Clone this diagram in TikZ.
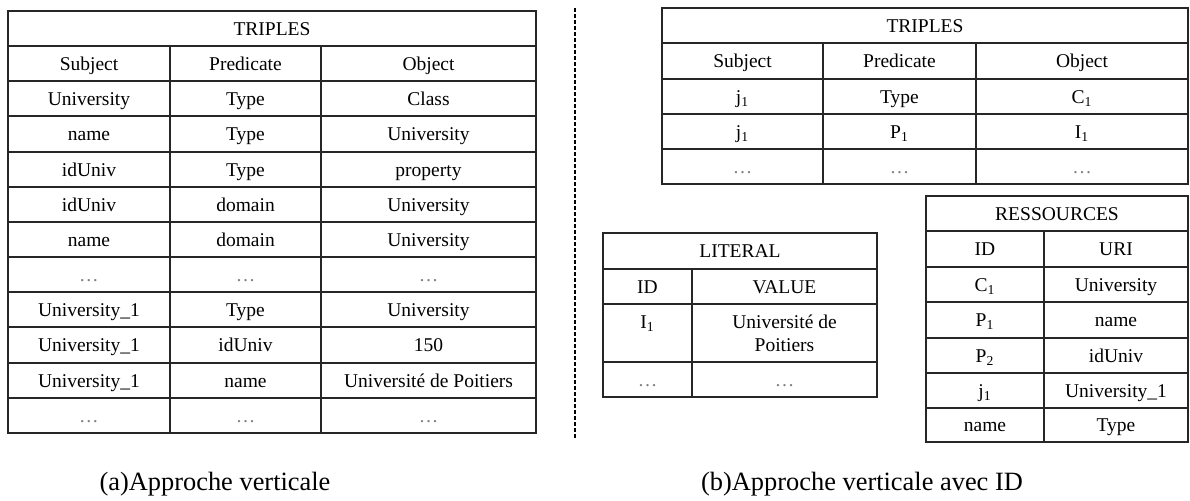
\documentclass[tikz,border=0pt]{standalone}
\usepackage{fontspec}
\setmainfont{Liberation Serif}
\newcommand{\etc}{{\color{black!50}\ldots}}
\newcommand{\sub}[2]{#1\textsubscript{#2}}

\begin{document}
\begin{tikzpicture}[x=0.5pt, y=-0.5pt,
    cell/.style={font=\fontsize{9.75}{11.5}\selectfont, inner sep=0pt, text height=8.5pt, text depth=2pt},
    rule/.style={line width=0.8pt, black!85},
    caption/.style={font=\fontsize{13.2}{15}\selectfont, anchor=base, inner sep=0pt}]
  \useasboundingbox (0,0) rectangle (1190,500);

  % (a) one table of triples
  \draw[rule] (8,11) rectangle (536,433);
  \draw[rule] (8,46) -- (536,46);
  \draw[rule] (8,81) -- (536,81);
  \draw[rule] (8,116) -- (536,116);
  \draw[rule] (8,152) -- (536,152);
  \draw[rule] (8,187) -- (536,187);
  \draw[rule] (8,222) -- (536,222);
  \draw[rule] (8,257) -- (536,257);
  \draw[rule] (8,292) -- (536,292);
  \draw[rule] (8,327) -- (536,327);
  \draw[rule] (8,363) -- (536,363);
  \draw[rule] (8,398) -- (536,398);
  \draw[rule] (170,46) -- (170,433);
  \draw[rule] (321,46) -- (321,433);

  \node[cell] (ta) at (272,28.5) {TRIPLES};
  \node[cell] (a0s) at (89,63.5) {Subject};
  \node[cell] (a0p) at (245.5,63.5) {Predicate};
  \node[cell] (a0o) at (428.5,63.5) {Object};
  \node[cell] (a1s) at (89,98.5) {University};
  \node[cell] (a1p) at (245.5,98.5) {Type};
  \node[cell] (a1o) at (428.5,98.5) {Class};
  \node[cell] (a2s) at (89,134) {name};
  \node[cell] (a2p) at (245.5,134) {Type};
  \node[cell] (a2o) at (428.5,134) {University};
  \node[cell] (a3s) at (89,169.5) {idUniv};
  \node[cell] (a3p) at (245.5,169.5) {Type};
  \node[cell] (a3o) at (428.5,169.5) {property};
  \node[cell] (a4s) at (89,204.5) {idUniv};
  \node[cell] (a4p) at (245.5,204.5) {domain};
  \node[cell] (a4o) at (428.5,204.5) {University};
  \node[cell] (a5s) at (89,239.5) {name};
  \node[cell] (a5p) at (245.5,239.5) {domain};
  \node[cell] (a5o) at (428.5,239.5) {University};
  \node[cell] (a6s) at (89,274.5) {\etc};
  \node[cell] (a6p) at (245.5,274.5) {\etc};
  \node[cell] (a6o) at (428.5,274.5) {\etc};
  \node[cell] (a7s) at (89,309.5) {University\_1};
  \node[cell] (a7p) at (245.5,309.5) {Type};
  \node[cell] (a7o) at (428.5,309.5) {University};
  \node[cell] (a8s) at (89,345) {University\_1};
  \node[cell] (a8p) at (245.5,345) {idUniv};
  \node[cell] (a8o) at (428.5,345) {150};
  \node[cell] (a9s) at (89,380.5) {University\_1};
  \node[cell] (a9p) at (245.5,380.5) {name};
  \node[cell] (a9o) at (428.5,380.5) {Université de Poitiers};
  \node[cell] (a10s) at (89,415.5) {\etc};
  \node[cell] (a10p) at (245.5,415.5) {\etc};
  \node[cell] (a10o) at (428.5,415.5) {\etc};

  \node[caption] (capa) at (215,490) {(a)Approche verticale};

  \draw[line width=1.4pt, dash pattern=on 2.2pt off 0.8pt] (575,8) -- (575,438);

  % (b) triples with identifiers
  \draw[rule] (662,8) rectangle (1188,184);
  \draw[rule] (662,43) -- (1188,43);
  \draw[rule] (662,79) -- (1188,79);
  \draw[rule] (662,114) -- (1188,114);
  \draw[rule] (662,149) -- (1188,149);
  \draw[rule] (823,43) -- (823,184);
  \draw[rule] (976,43) -- (976,184);

  \node[cell] (tb) at (925,25.5) {TRIPLES};
  \node[cell] (b0s) at (742.5,61) {Subject};
  \node[cell] (b0p) at (899.5,61) {Predicate};
  \node[cell] (b0o) at (1082,61) {Object};
  \node[cell] (b1s) at (742.5,96.5) {\sub{j}{1}};
  \node[cell] (b1p) at (899.5,96.5) {Type};
  \node[cell] (b1o) at (1082,96.5) {\sub{C}{1}};
  \node[cell] (b2s) at (742.5,131.5) {\sub{j}{1}};
  \node[cell] (b2p) at (899.5,131.5) {\sub{P}{1}};
  \node[cell] (b2o) at (1082,131.5) {\sub{I}{1}};
  \node[cell] (b3s) at (742.5,166.5) {\etc};
  \node[cell] (b3p) at (899.5,166.5) {\etc};
  \node[cell] (b3o) at (1082,166.5) {\etc};

  % literals
  \draw[rule] (603,233) rectangle (877,397);
  \draw[rule] (603,269) -- (877,269);
  \draw[rule] (603,304) -- (877,304);
  \draw[rule] (603,362) -- (877,362);
  \draw[rule] (692,269) -- (692,397);

  \node[cell] (tl) at (740,251) {LITERAL};
  \node[cell] (l0i) at (647.5,286.5) {ID};
  \node[cell] (l0v) at (784.5,286.5) {VALUE};
  \node[cell] (l1i) at (647.5,322) {\sub{I}{1}};
  \node[cell] (l1v) at (784.5,322) {Université de};
  \node[cell] (l1w) at (784.5,345) {Poitiers};
  \node[cell] (l2i) at (647.5,379.5) {\etc};
  \node[cell] (l2v) at (784.5,379.5) {\etc};

  % resources
  \draw[rule] (926,196) rectangle (1188,442);
  \draw[rule] (926,231) -- (1188,231);
  \draw[rule] (926,267) -- (1188,267);
  \draw[rule] (926,302) -- (1188,302);
  \draw[rule] (926,338) -- (1188,338);
  \draw[rule] (926,373) -- (1188,373);
  \draw[rule] (926,408) -- (1188,408);
  \draw[rule] (1044,231) -- (1044,442);

  \node[cell] (tr) at (1057,213.5) {RESSOURCES};
  \node[cell] (r0i) at (985,249) {ID};
  \node[cell] (r0u) at (1116,249) {URI};
  \node[cell] (r1i) at (985,284.5) {\sub{C}{1}};
  \node[cell] (r1u) at (1116,284.5) {University};
  \node[cell] (r2i) at (985,320) {\sub{P}{1}};
  \node[cell] (r2u) at (1116,320) {name};
  \node[cell] (r3i) at (985,355.5) {\sub{P}{2}};
  \node[cell] (r3u) at (1116,355.5) {idUniv};
  \node[cell] (r4i) at (985,390.5) {\sub{j}{1}};
  \node[cell] (r4u) at (1116,390.5) {University\_1};
  \node[cell] (r5i) at (985,425) {name};
  \node[cell] (r5u) at (1116,425) {Type};

  \node[caption] (capb) at (862,490) {(b)Approche verticale avec ID};
\end{tikzpicture}
\end{document}
